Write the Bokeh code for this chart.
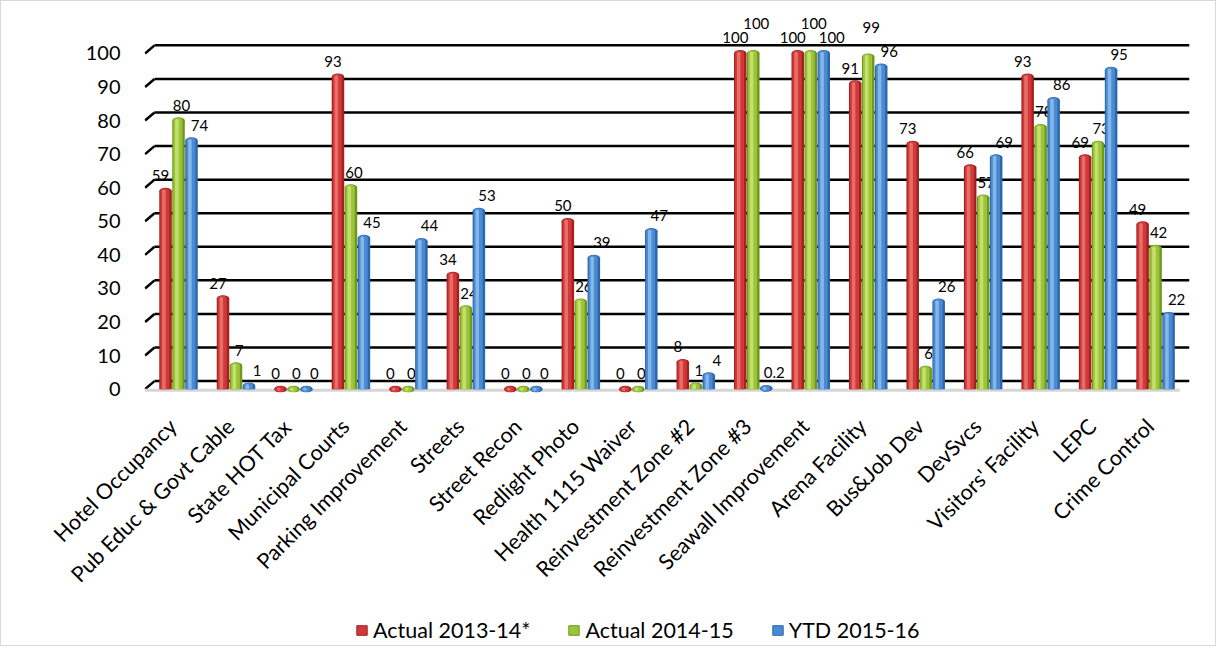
import numpy as np
from math import pi
from bokeh.plotting import figure
from bokeh.layouts import column
from bokeh.models import (Range1d, LinearAxis, FixedTicker, ColumnDataSource, Legend, LegendItem)
from bokeh.transform import dodge
from bokeh.core.properties import value
from bokeh.embed import file_html
from bokeh.resources import INLINE

# ---------------- data ----------------
categories = ["Hotel Occupancy", "Pub Educ & Govt Cable", "State HOT Tax", "Municipal Courts",
              "Parking Improvement", "Streets", "Street Recon", "Redlight Photo",
              "Health 1115 Waiver", "Reinvestment Zone #2", "Reinvestment Zone #3",
              "Seawall Improvement", "Arena Facility", "Bus&Job Dev", "DevSvcs",
              "Visitors' Facility", "LEPC", "Crime Control"]
actual_2013_14 = [59, 27, 0, 93, 0, 34, 0, 50, 0, 8, 100, 100, 91, 73, 66, 93, 69, 49]
actual_2014_15 = [80, 7, 0, 60, 0, 24, 0, 26, 0, 1, 100, 100, 99, 6, 57, 78, 73, 42]
ytd_2015_16 = [74, 1, 0, 45, 44, 53, 0, 39, 47, 4, 0.2, 100, 96, 26, 69, 86, 95, 22]
series_names = ["Actual 2013-14*", "Actual 2014-15", "YTD 2015-16"]
y_ticks = [0, 10, 20, 30, 40, 50, 60, 70, 80, 90, 100]

# ---------------- styling / layout ----------------
FONT = "Lato"
series_vals = [actual_2013_14, actual_2014_15, ytd_2015_16]
offsets = [-0.226, 0.0, 0.226]
label_dx = [-5, 3, 8]
LABEL_DY = -10
RAISED_DY = -24
palettes = [("#A3211E", "#D0383A", "#E8746C"),
            ("#6E991C", "#9CC43B", "#C8E373"),
            ("#2C68AE", "#4A8AD2", "#8CBAEA")]
BW = 0.218
X0, X1 = -0.592, 17.59
Y0, Y1 = -1.0, 111.0
BACK_DY = 2.4
X_BACK = X0 + 0.174
LABEL_SHIFT = 0.1
W = 1214
H_MAIN, H_LEG = 600, 44

# middle-series labels are lifted when a neighbour's label would sit at the same height
mid = np.array(actual_2014_15, dtype=float)
near = (np.abs(mid - np.array(actual_2013_14)) < 4) | (np.abs(mid - np.array(ytd_2015_16)) < 4)
near &= mid > 5
dy_per_series = [np.full(len(categories), LABEL_DY),
                 np.where(near, RAISED_DY, LABEL_DY),
                 np.full(len(categories), LABEL_DY)]

p = figure(width=W, height=H_MAIN, output_backend="svg", toolbar_location=None,
           x_range=Range1d(X0, X1), y_range=Range1d(Y0, Y1), x_axis_location=None,
           min_border_left=143, min_border_right=26, min_border_top=15, min_border_bottom=209)
p.outline_line_color = None
p.xgrid.visible = False
p.ygrid.visible = False
p.background_fill_color = "white"

# y axis
p.yaxis.ticker = FixedTicker(ticks=y_ticks)
p.yaxis.axis_line_color = None
p.yaxis.major_tick_line_color = None
p.yaxis.minor_tick_line_color = None
p.yaxis.major_tick_out = 0
p.yaxis.major_label_standoff = 24
p.yaxis.major_label_text_font = FONT
p.yaxis.major_label_text_font_size = "20px"
p.yaxis.major_label_text_color = "black"

# category axis (labels sit on the front floor edge, a little left of the bars)
p.extra_x_ranges = {"lab": Range1d(X0 + LABEL_SHIFT, X1 + LABEL_SHIFT)}
xa = LinearAxis(x_range_name="lab",
                ticker=FixedTicker(ticks=list(range(len(categories)))),
                major_label_overrides={i: c for i, c in enumerate(categories)})
xa.axis_line_color = None
xa.major_tick_line_color = None
xa.minor_tick_line_color = None
xa.major_tick_out = 0
xa.major_label_standoff = 30
xa.major_label_orientation = pi / 4
xa.major_label_text_font = FONT
xa.major_label_text_font_size = "21.5px"
xa.major_label_text_color = "black"
p.add_layout(xa, "below")

# back-wall gridlines with the small depth stubs at the left
n = len(y_ticks)
p.segment(x0=[X_BACK] * n, y0=[t + BACK_DY for t in y_ticks],
          x1=[X1] * n, y1=[t + BACK_DY for t in y_ticks],
          line_color="black", line_width=2.5)
p.segment(x0=[X0 + 0.01] * n, y0=y_ticks, x1=[X_BACK] * n,
          y1=[t + BACK_DY for t in y_ticks], line_color="black", line_width=2.5)
# floor front edge
p.segment(x0=[X0], y0=[-0.3], x1=[17.42], y1=[-0.3], line_color="#d6d6d6", line_width=3)

x = np.arange(len(categories))
for vals, off, (dark, base, light), lx, dys in zip(series_vals, offsets, palettes,
                                                   label_dx, dy_per_series):
    src = ColumnDataSource(dict(x=x + off, top=vals, dy=dys,
                                label=[f"{v:g}" for v in vals]))
    p.vbar(x="x", top="top", bottom=0, width=BW, source=src,
           fill_color=dark, line_color=None)
    p.ellipse(x="x", y="top", width=BW, height=2.0, source=src,
              fill_color=dark, line_color=None)
    p.vbar(x=dodge("x", -0.012, range=p.x_range), top="top", bottom=0, width=BW * 0.72,
           source=src, fill_color=base, line_color=None)
    p.ellipse(x=dodge("x", -0.012, range=p.x_range), y="top", width=BW * 0.72, height=1.7,
              source=src, fill_color=base, line_color=None)
    p.vbar(x=dodge("x", -0.028, range=p.x_range), top="top", bottom=0, width=BW * 0.28,
           source=src, fill_color=light, line_color=None, fill_alpha=0.9)
    p.ellipse(x=dodge("x", -0.028, range=p.x_range), y="top", width=BW * 0.28, height=1.0,
              source=src, fill_color=light, line_color=None, fill_alpha=0.9)
    p.text(x="x", y="top", text="label", source=src, text_align="center",
           text_baseline="bottom", x_offset=lx, y_offset="dy", text_font=value(FONT),
           text_font_size="15px", text_color="black")

# ---------------- legend strip ----------------
pl = figure(width=W, height=H_LEG, output_backend="svg", toolbar_location=None,
            x_range=Range1d(0, 1), y_range=Range1d(0, 1),
            x_axis_location=None, y_axis_location=None,
            min_border_left=0, min_border_right=0, min_border_top=0, min_border_bottom=0)
pl.outline_line_color = None
pl.xgrid.visible = False
pl.ygrid.visible = False
items = []
for (dark, base, light), name in zip(palettes, series_names):
    r = pl.vbar(x=[np.nan], top=[np.nan], width=0.1, fill_color=base,
                line_color=dark, line_width=1)
    items.append(LegendItem(label=name, renderers=[r]))
legend = Legend(items=items, orientation="horizontal", location=(211, 2),
                label_text_font=FONT, label_text_font_size="21.5px", label_text_color="black",
                glyph_width=13, glyph_height=12, label_standoff=5, spacing=37,
                padding=0, margin=0, border_line_color=None, background_fill_alpha=0)
pl.add_layout(legend, "center")

layout = column(p, pl, spacing=0, styles={"border": "1px solid #d9d9d9"})
open("out.html", "w").write(file_html(layout, INLINE))
